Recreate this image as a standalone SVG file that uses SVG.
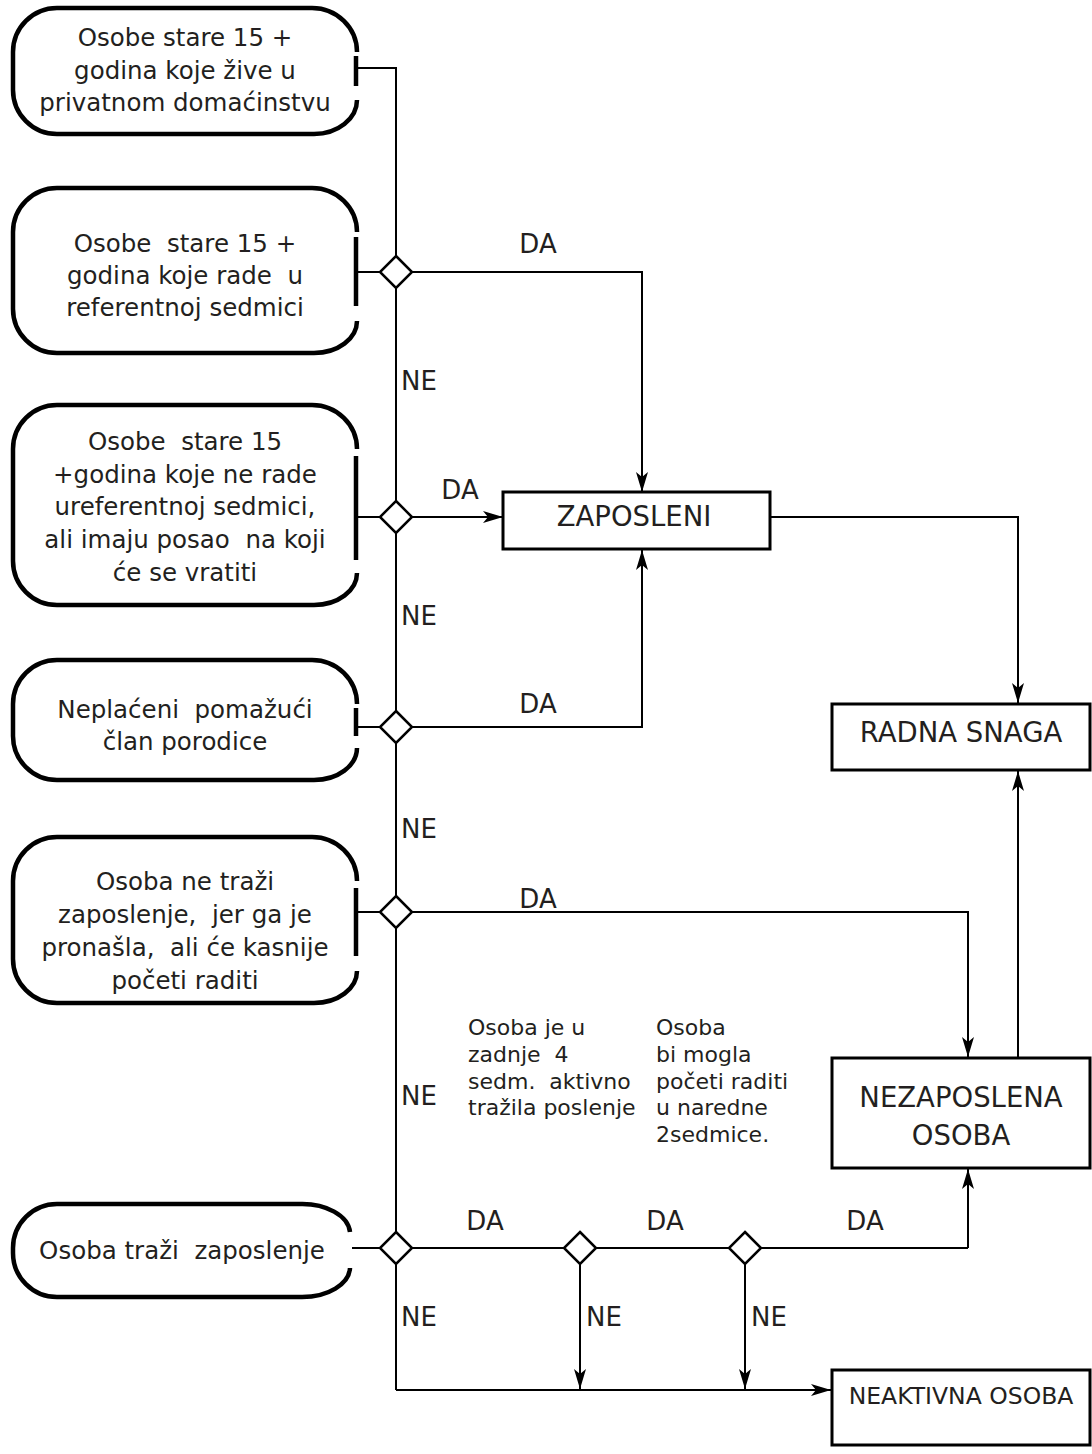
<svg xmlns="http://www.w3.org/2000/svg" width="1092" height="1454" viewBox="0 0 1092 1454">
<defs>
<marker id="ah" viewBox="0 0 20 12" refX="20" refY="6" markerWidth="20" markerHeight="12" markerUnits="userSpaceOnUse" orient="auto">
<path d="M0,0 L20,6 L0,12 L5,6 Z" fill="#000"/>
</marker>
</defs>
<style>
text{white-space:pre;fill:#231f20;font-family:"DejaVu Sans","Liberation Sans",sans-serif}
.t{font-size:24.5px;text-anchor:middle}
.b{font-size:27.5px;text-anchor:middle}
.l{font-size:26px}
.m{font-size:26px;text-anchor:middle}
.s{font-size:22px}
.n{font-size:23.5px;text-anchor:middle}
.term{fill:none;stroke:#000;stroke-width:4.5}
.box{fill:#fff;stroke:#000;stroke-width:3}
.c{fill:none;stroke:#000;stroke-width:2}
.a{fill:none;stroke:#000;stroke-width:2;marker-end:url(#ah)}
.d{fill:#fff;stroke:#000;stroke-width:2.5}
</style>
<g id="connectors">
<path class="c" d="M357,68 H396 V1390"/>
<path class="c" d="M357,272 H396"/>
<path class="c" d="M357,517 H396"/>
<path class="c" d="M357,727 H396"/>
<path class="c" d="M357,912 H396"/>
<path class="c" d="M352,1248 H968"/>
<path class="a" d="M396,272 H642 V492"/>
<path class="a" d="M396,517 H503"/>
<path class="a" d="M396,727 H642 V550"/>
<path class="a" d="M770,517 H1018 V703"/>
<path class="a" d="M396,912 H968 V1057"/>
<path class="a" d="M1018,1058 V771"/>
<path class="a" d="M968,1248 V1169"/>
<path class="a" d="M580,1248 V1389"/>
<path class="a" d="M745,1248 V1389"/>
<path class="a" d="M396,1390 H831"/>
<text class="m" x="538" y="253">DA</text>
<text class="m" x="460" y="499">DA</text>
<text class="m" x="538" y="713">DA</text>
<text class="m" x="538" y="908">DA</text>
<text class="m" x="485" y="1230">DA</text>
<text class="m" x="665" y="1230">DA</text>
<text class="m" x="865" y="1230">DA</text>
<text class="l" x="401" y="390">NE</text>
<text class="l" x="401" y="625">NE</text>
<text class="l" x="401" y="838">NE</text>
<text class="l" x="401" y="1105">NE</text>
<text class="l" x="401" y="1326">NE</text>
<text class="l" x="586" y="1326">NE</text>
<text class="l" x="751" y="1326">NE</text>
</g>
<g id="d1"><path class="d" d="M396,256 L412,272 L396,288 L380,272 Z"/></g>
<g id="d2"><path class="d" d="M396,501 L412,517 L396,533 L380,517 Z"/></g>
<g id="d3"><path class="d" d="M396,711 L412,727 L396,743 L380,727 Z"/></g>
<g id="d4"><path class="d" d="M396,896 L412,912 L396,928 L380,912 Z"/></g>
<g id="d5"><path class="d" d="M396,1232 L412,1248 L396,1264 L380,1248 Z"/></g>
<g id="d6"><path class="d" d="M580,1232 L596,1248 L580,1264 L564,1248 Z"/></g>
<g id="d7"><path class="d" d="M745,1232 L761,1248 L745,1264 L729,1248 Z"/></g>
<g id="n1">
<path class="term" d="M357,52 A45,44 0 0 0 312,8 H57 A44,44 0 0 0 13,52 V90 A44,44 0 0 0 57,134 H314 A43,34 0 0 0 357,100 M356,56 V86"/>
<text class="t" x="185" y="46">Osobe stare 15 +</text>
<text class="t" x="185" y="79">godina koje žive u</text>
<text class="t" x="185" y="111">privatnom domaćinstvu</text>
</g>
<g id="n2">
<path class="term" d="M357,232 A45,44 0 0 0 312,188 H57 A44,44 0 0 0 13,232 V309 A44,44 0 0 0 57,353 H314 A43,32 0 0 0 357,321 M356,237 V306"/>
<text class="t" x="185" y="252">Osobe  stare 15 +</text>
<text class="t" x="185" y="284">godina koje rade  u</text>
<text class="t" x="185" y="316">referentnoj sedmici</text>
</g>
<g id="n3">
<path class="term" d="M357,449 A45,44 0 0 0 312,405 H57 A44,44 0 0 0 13,449 V561 A44,44 0 0 0 57,605 H314 A43,32 0 0 0 357,573 M356,456 V560"/>
<text class="t" x="185" y="450">Osobe  stare 15</text>
<text class="t" x="185" y="483">+godina koje ne rade</text>
<text class="t" x="185" y="515">ureferentnoj sedmici,</text>
<text class="t" x="185" y="548">ali imaju posao  na koji</text>
<text class="t" x="185" y="581">će se vratiti</text>
</g>
<g id="n4">
<path class="term" d="M357,704 A45,44 0 0 0 312,660 H57 A44,44 0 0 0 13,704 V736 A44,44 0 0 0 57,780 H314 A43,32 0 0 0 357,748 M356,708 V736"/>
<text class="t" x="185" y="718">Neplaćeni  pomažući</text>
<text class="t" x="185" y="750">član porodice</text>
</g>
<g id="n5">
<path class="term" d="M357,881 A45,44 0 0 0 312,837 H57 A44,44 0 0 0 13,881 V959 A44,44 0 0 0 57,1003 H314 A43,32 0 0 0 357,971 M356,888 V956"/>
<text class="t" x="185" y="890">Osoba ne traži</text>
<text class="t" x="185" y="923">zaposlenje,  jer ga je</text>
<text class="t" x="185" y="956">pronašla,  ali će kasnije</text>
<text class="t" x="185" y="989">početi raditi</text>
</g>
<g id="n6">
<path class="term" d="M350,1232 A48,30 0 0 0 300,1204 H57 A44,44 0 0 0 13,1248 V1253 A44,44 0 0 0 57,1297 H302 A48,30 0 0 0 350,1268"/>
<text class="t" x="182" y="1259">Osoba traži  zaposlenje</text>
</g>
<g id="zaposleni">
<rect class="box" x="503" y="492" width="267" height="57"/>
<text class="b" x="634" y="526">ZAPOSLENI</text>
</g>
<g id="radna">
<rect class="box" x="832" y="704" width="258" height="66"/>
<text class="b" x="961" y="742">RADNA SNAGA</text>
</g>
<g id="nezaposlena">
<rect class="box" x="832" y="1058" width="258" height="110"/>
<text class="b" x="961" y="1107">NEZAPOSLENA</text>
<text class="b" x="961" y="1145">OSOBA</text>
</g>
<g id="neaktivna">
<rect class="box" x="832" y="1370" width="258" height="75"/>
<text class="n" x="961" y="1404">NEAKTIVNA OSOBA</text>
</g>
<g id="notes">
<text class="s" x="468" y="1035">Osoba je u</text>
<text class="s" x="468" y="1062">zadnje  4</text>
<text class="s" x="468" y="1089">sedm.  aktivno</text>
<text class="s" x="468" y="1115">tražila poslenje</text>
<text class="s" x="656" y="1035">Osoba</text>
<text class="s" x="656" y="1062">bi mogla</text>
<text class="s" x="656" y="1089">početi raditi</text>
<text class="s" x="656" y="1115">u naredne</text>
<text class="s" x="656" y="1142">2sedmice.</text>
</g>
</svg>
